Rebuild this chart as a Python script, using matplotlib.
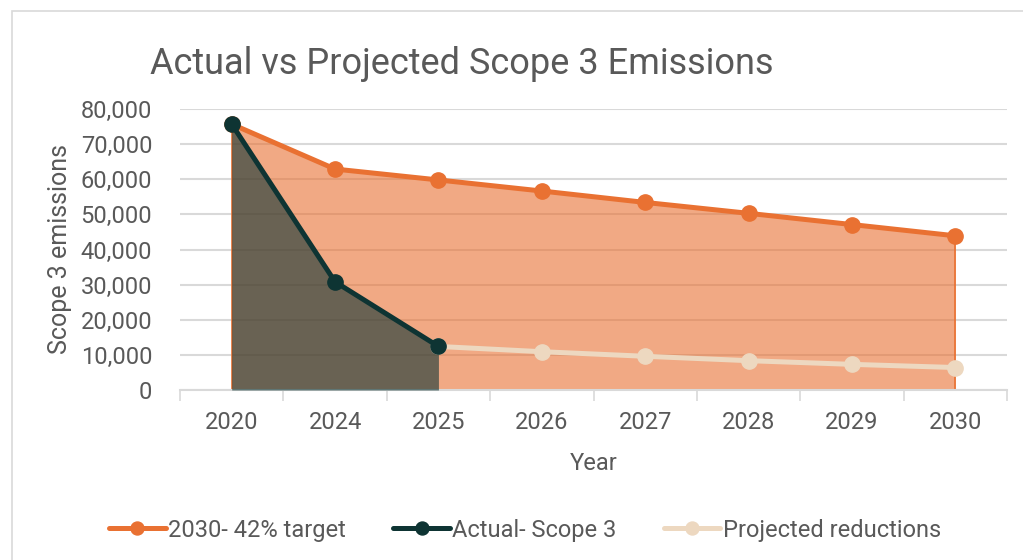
import matplotlib.pyplot as plt
from matplotlib.patches import Rectangle

years = ['2020', '2024', '2025', '2026', '2027', '2028', '2029', '2030']
target = [75700, 62900, 59800, 56650, 53400, 50300, 47100, 43900]
actual = [75700, 30800, 12400]
projected = [12400, 10900, 9600, 8350, 7300, 6400]

c_target = '#E97132'
c_actual = '#0E3433'
c_proj = '#EDD8C0'
c_text = '#595959'

plt.rcParams['font.family'] = ['Roboto', 'DejaVu Sans']

fig = plt.figure(figsize=(10.23, 5.6), dpi=100)
fig.patches.append(Rectangle((12 / 1023, -0.1), 1.2, 1 - 11 / 560 + 0.1,
                             transform=fig.transFigure, fill=False,
                             edgecolor='#D9D9D9', linewidth=1.2))
ax = fig.add_axes([180 / 1023, 1 - 390 / 560, 827 / 1023, 281 / 560])

x = list(range(len(years)))
xa = x[:len(actual)]
xp = x[len(actual) - 1:]

# area fills (semi-transparent like the Excel area chart)
ax.fill_between(x, target, 0, color=c_target, alpha=0.6, linewidth=0, zorder=2)
ax.plot([x[0], x[0]], [0, target[0]], color=c_target, lw=1.2, zorder=2)
ax.plot([x[-1], x[-1]], [0, target[-1]], color=c_target, lw=1.2, zorder=2)
ax.fill_between(xa, actual, 0, color=c_actual, alpha=0.6, linewidth=0, zorder=3)

# lines
ax.plot(x, target, color=c_target, lw=3.6, marker='o', ms=11, zorder=4,
        label='2030- 42% target', solid_capstyle='round')
ax.plot(xp, projected, color=c_proj, lw=3.6, marker='o', ms=11, zorder=5,
        label='Projected reductions', solid_capstyle='round')
ax.plot(xa, actual, color=c_actual, lw=3.6, marker='o', ms=11, zorder=6,
        label='Actual- Scope 3', solid_capstyle='round')

ax.set_xlim(-0.5, len(years) - 0.5)
ax.set_ylim(0, 80000)
ax.set_yticks(range(0, 80001, 10000))
ax.set_yticklabels([f'{v:,}' for v in range(0, 80001, 10000)])
ax.set_xticks(x)
ax.set_xticklabels(years)
ax.set_xticks([i - 0.5 for i in range(len(years) + 1)], minor=True)
ax.tick_params(axis='x', which='major', length=0, pad=15, labelsize=17, labelcolor=c_text)
ax.tick_params(axis='x', which='minor', length=8, color='#D9D9D9', width=1.2)
ax.tick_params(axis='y', length=0, pad=20, labelsize=17, labelcolor=c_text)

ax.grid(axis='y', color='#D9D9D9', lw=1.5, zorder=1)
ax.set_axisbelow(True)
for s in ['top', 'right', 'left']:
    ax.spines[s].set_visible(False)
ax.spines['bottom'].set_color('#D9D9D9')
ax.spines['bottom'].set_linewidth(1.5)

ax.set_xlabel('Year', fontsize=17, color=c_text, labelpad=13)
ax.set_ylabel('Scope 3 emissions', fontsize=18, color=c_text, labelpad=6)
fig.text(150 / 1023, 1 - 64 / 560, 'Actual vs Projected Scope 3 Emissions',
         fontsize=26, color=c_text, va='center', ha='left')

h, l = ax.get_legend_handles_labels()
order = [0, 2, 1]
fig.legend([h[i] for i in order], [l[i] for i in order], loc='center',
           bbox_to_anchor=(525 / 1023, 1 - 530 / 560), ncol=3, frameon=False,
           fontsize=17, labelcolor=c_text, handlelength=2.4, handletextpad=0.1,
           columnspacing=2.0, markerscale=0.85)

fig.savefig('out.png', dpi=100)
